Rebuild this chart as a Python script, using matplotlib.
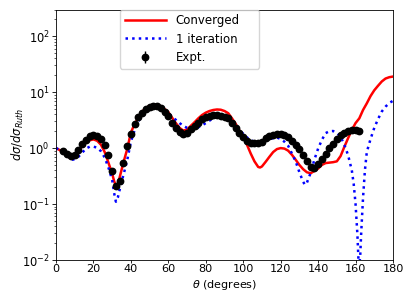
import numpy as np
import matplotlib
matplotlib.use("Agg")
import matplotlib.pyplot as plt

# Converged calculation
conv_theta = [0, 2, 4, 6, 8, 9, 10, 12, 14, 16, 18, 20, 22, 24, 26, 28, 30, 31, 32, 33, 34, 36, 38,
              40, 42, 44, 46, 48, 50, 52, 54, 56, 58, 60, 62, 64, 66, 68, 70, 72, 74, 76, 78, 80,
              82, 84, 86, 88, 90, 92, 94, 96, 98, 100, 102, 104, 106, 108, 109, 110, 112, 114, 116,
              118, 120, 122, 124, 126, 128, 130, 132, 134, 136, 138, 140, 142, 144, 146, 148, 150,
              152, 154, 156, 158, 160, 162, 164, 166, 168, 170, 172, 174, 176, 178, 180]
conv_vals = [1.0, 0.92, 0.83, 0.72, 0.655, 0.65, 0.67, 0.85, 1.1, 1.25, 1.38, 1.43, 1.35, 1.15, 0.85,
             0.55, 0.35, 0.26, 0.21, 0.22, 0.3, 0.55, 0.95,
             1.9, 2.7, 3.5, 4.5, 5.2, 5.7, 6.0, 5.9, 5.6, 5.0, 4.4, 3.5, 2.8, 2.3, 2.05, 2.15, 2.5,
             2.9, 3.4, 3.9, 4.3, 4.6, 4.8, 4.9, 4.85, 4.6, 4.2, 3.4, 2.7, 2.05, 1.6, 1.15, 0.8, 0.58,
             0.46, 0.45, 0.47, 0.57, 0.7, 0.85, 0.96, 1.0, 0.98, 0.9, 0.76, 0.62, 0.5, 0.42, 0.37,
             0.355, 0.39, 0.43, 0.5, 0.54, 0.55, 0.56, 0.58, 0.72, 1.05, 1.5, 2.1, 2.8, 3.4, 4.8,
             6.3, 8.5, 10.8, 13.0, 15.5, 17.5, 18.5, 19.0]

# 1 iteration calculation
iter_theta = [0, 2, 4, 6, 8, 9, 10, 12, 14, 16, 18, 20, 22, 24, 26, 28, 30, 31, 32, 33, 34, 36, 38,
              40, 42, 44, 46, 48, 50, 52, 54, 56, 58, 60, 62, 64, 66, 68, 70, 72, 74, 76, 78, 80,
              82, 84, 86, 88, 90, 92, 94, 96, 98, 100, 102, 104, 106, 108, 110, 112, 114, 116, 118,
              120, 122, 124, 126, 128, 130, 132, 133, 134, 136, 138, 140, 142, 144, 146, 148, 150,
              152, 154, 156, 158, 159, 160, 161, 161.5, 162, 162.5, 163, 164, 165, 166, 168, 170,
              172, 174, 176, 178, 180]
iter_vals = [1.0, 0.93, 0.82, 0.72, 0.64, 0.62, 0.64, 0.7, 0.83, 0.98, 1.06, 1.06, 1.02, 0.88, 0.68,
             0.45, 0.27, 0.16, 0.11, 0.13, 0.18, 0.33, 0.6,
             1.3, 2.1, 3.0, 3.9, 4.6, 5.1, 5.4, 5.5, 5.3, 4.8, 4.2, 3.6, 3.2, 2.8, 2.5, 2.3, 2.2,
             2.25, 2.35, 2.55, 2.8, 3.1, 3.4, 3.55, 3.65, 3.6, 3.4, 3.1, 2.5, 2.1, 1.8, 1.55, 1.38,
             1.3, 1.28, 1.3, 1.38, 1.45, 1.5, 1.55, 1.45, 1.3, 1.1, 0.8, 0.58, 0.37, 0.25, 0.22,
             0.24, 0.36, 0.62, 0.98, 1.4, 1.85, 2.0, 2.02, 1.88, 1.6, 1.15, 0.75, 0.4, 0.23, 0.1,
             0.028, 0.011, 0.008, 0.012, 0.03, 0.13, 0.4, 0.85, 1.45, 2.3, 3.3, 4.5, 5.5, 6.4, 7.0]

# Experimental data
expt_theta = [4, 6, 8, 10, 12, 14, 16, 18, 20, 22, 24, 26, 28, 30, 32, 34, 36, 38, 40, 42, 44, 46,
              48, 50, 52, 54, 56, 58, 60, 62, 64, 66, 68, 70, 72, 74, 76, 78, 80, 82, 84, 86, 88,
              90, 92, 94, 96, 98, 100, 102, 104, 106, 108, 110, 112, 114, 116, 118, 120, 122, 124,
              126, 128, 130, 132, 134, 136, 138, 140, 142, 144, 146, 148, 150, 152, 154, 156, 158,
              160, 162]
expt_vals = [0.88, 0.79, 0.71, 0.74, 0.92, 1.18, 1.42, 1.62, 1.72, 1.65, 1.45, 1.15, 0.75, 0.39,
             0.21, 0.26, 0.55, 1.1, 1.8, 2.7, 3.6, 4.3, 4.9, 5.4, 5.7, 5.6, 5.3, 4.4, 3.8, 2.8,
             2.25, 1.95, 1.75, 1.85, 2.15, 2.45, 2.85, 3.25, 3.6, 3.75, 3.85, 3.85, 3.75, 3.6, 3.4,
             2.8, 2.3, 1.9, 1.6, 1.32, 1.22, 1.22, 1.25, 1.3, 1.5, 1.62, 1.7, 1.75, 1.78, 1.72,
             1.6, 1.32, 1.15, 0.97, 0.75, 0.6, 0.46, 0.45, 0.53, 0.65, 0.8, 0.99, 1.2, 1.45, 1.7,
             1.88, 2.0, 2.1, 2.1, 2.05]
expt_rel_err = 0.05

x_ticks = [0, 20, 40, 60, 80, 100, 120, 140, 160, 180]

fs = 8.3
plt.rcParams['axes.linewidth'] = 0.6
fig = plt.figure(figsize=(4.07, 2.92), dpi=100)
ax = fig.add_axes([56 / 407, 1 - 260 / 292, (393 - 56) / 407, (260 - 9.5) / 292])

ax.plot(conv_theta, conv_vals, color='red', lw=1.8, label='Converged')
ax.plot(iter_theta, iter_vals, color='blue', lw=1.8, ls=':', label='1 iteration')
ax.errorbar(expt_theta, expt_vals, yerr=np.array(expt_vals) * expt_rel_err, fmt='o',
            color='black', ms=4.6, elinewidth=1, label='Expt.')

ax.set_yscale('log')
ax.set_xlim(0, 180)
ax.set_ylim(1e-2, 300)
ax.set_xticks(x_ticks)
ax.tick_params(which='major', labelsize=fs, length=2.6, width=0.6, pad=2.0)
ax.tick_params(axis='x', which='major', length=2.3, pad=0.7, labelsize=8.1)
ax.tick_params(which='minor', length=1.6, width=0.45)
ax.set_xlabel(r'$\theta$ (degrees)', fontsize=8.0)
ax.set_ylabel(r'$d\sigma/d\sigma_{Ruth}$', fontsize=fs)
ax.xaxis.set_label_coords(0.5, -0.0703)
ax.yaxis.set_label_coords(-0.088, 0.5)

ax.legend(loc='upper left', bbox_to_anchor=(0.19, 0.0, 0.4125, 1.0), mode='expand',
          borderaxespad=0, fontsize=8.5, handlelength=3.5, labelspacing=0.45)

fig.savefig('out.png', dpi=100)
